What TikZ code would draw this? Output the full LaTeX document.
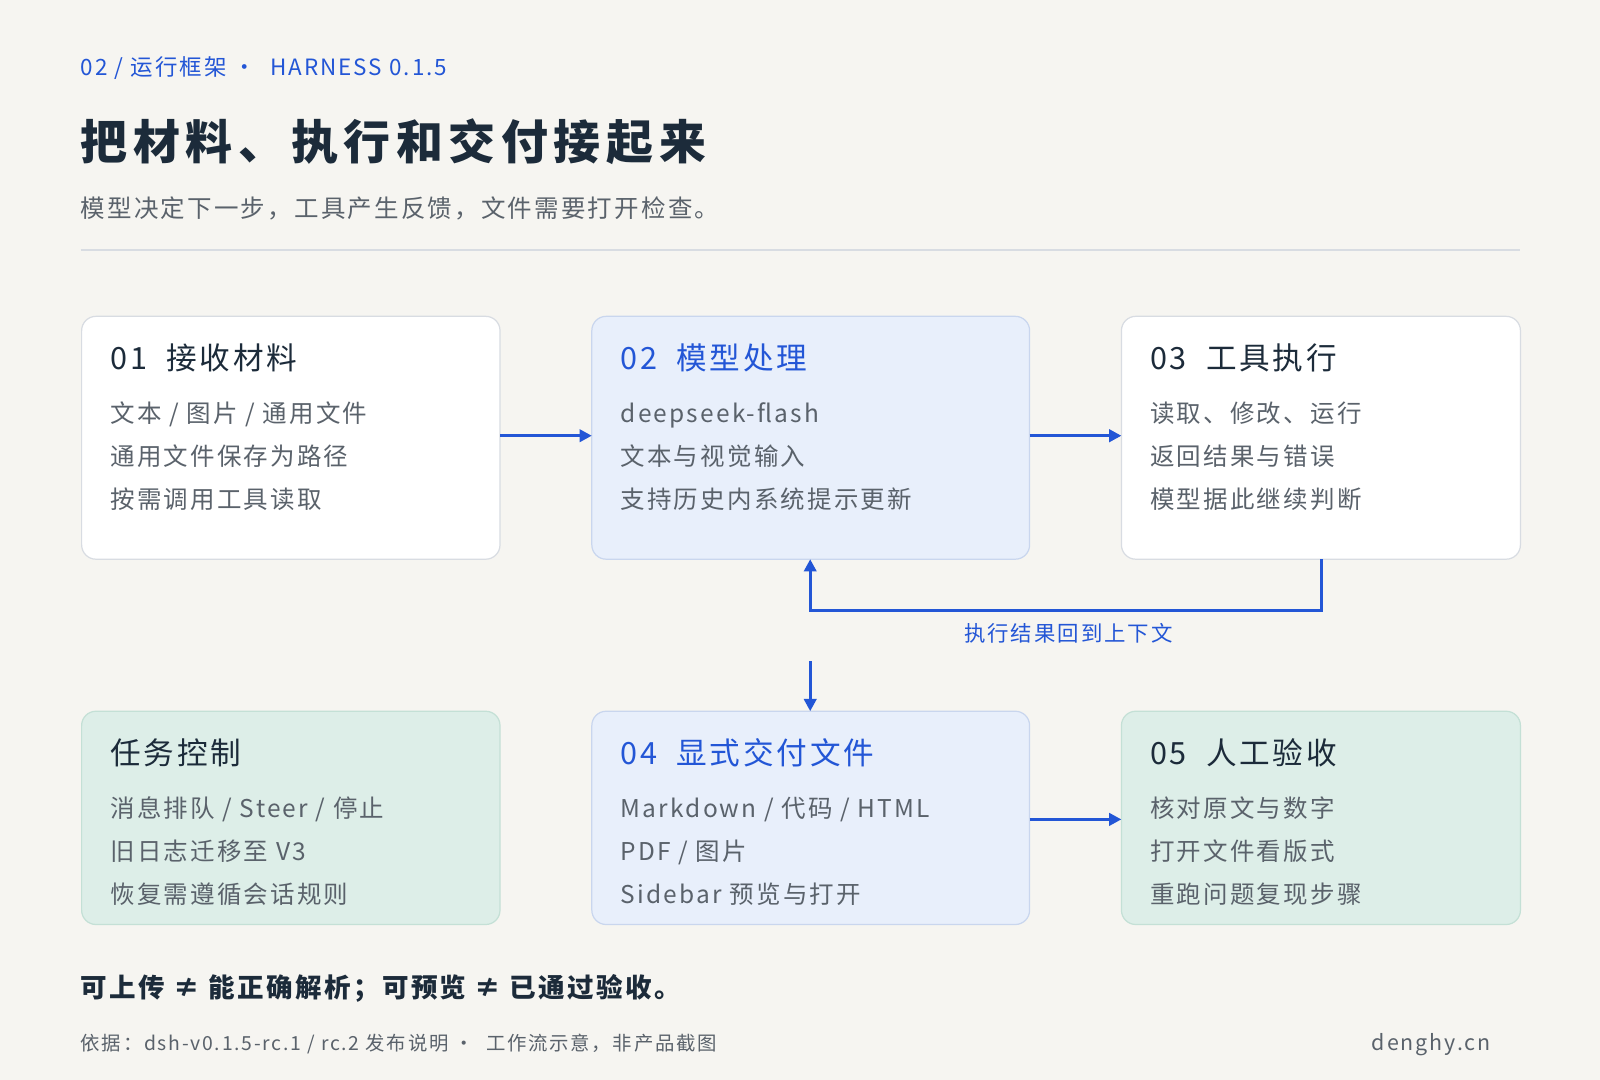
\documentclass[tikz,border=0pt]{standalone}
\usepackage{fontspec}
\setmainfont{Noto Sans CJK SC}[LetterSpace=9]
\newfontfamily\ttlfont{Noto Sans CJK SC}[LetterSpace=12]
\usetikzlibrary{arrows.meta}
\definecolor{bg}{HTML}{F6F5F1}
\definecolor{blu}{HTML}{2356D6}
\definecolor{ink}{HTML}{1C2B3A}
\definecolor{gry}{HTML}{5A626B}
\definecolor{bfill}{HTML}{E8EFFB}
\definecolor{bline}{HTML}{C9D6EE}
\definecolor{gfill}{HTML}{DDEEE8}
\definecolor{gline}{HTML}{C4E0D6}
\definecolor{wline}{HTML}{D8DCE2}
\tikzset{
 box/.style={draw, rounded corners=14pt, line width=1.2pt},
 wbox/.style={box, fill=white, draw=wline},
 bbox/.style={box, fill=bfill, draw=bline},
 gbox/.style={box, fill=gfill, draw=gline},
 ttl/.style={anchor=base west, inner sep=0, font=\fontsize{30}{36}\selectfont},
 ln/.style={anchor=base west, inner sep=0, text=gry, font=\fontsize{24}{30}\selectfont},
 arr/.style={draw=blu, line width=3pt, -{Triangle[length=12pt,width=12pt]}},
}
\begin{document}
\begin{tikzpicture}[x=1pt,y=-1pt]
\useasboundingbox[fill=bg] (0,0) rectangle (1568,1058);
\node[anchor=base west,inner sep=0,text=blu,font=\fontsize{22}{26}\selectfont] (hd) at (79,74) {02 / 运行框架 ·\ \ HARNESS 0.1.5};
\node[anchor=base west,inner sep=0,text=ink,font=\ttlfont\fontsize{46}{54}\selectfont\bfseries] (tt) at (79,156) {把材料、执行和交付接起来};
\node[anchor=base west,inner sep=0,text=gry,font=\fontsize{24}{30}\selectfont] (st) at (79,213) {模型决定下一步，工具产生反馈，文件需要打开检查。};
\draw[wline,line width=1.2pt] (79,245) coordinate (r1) -- (1490,245) coordinate (r2);
% boxes
\draw[wbox] (80,310) rectangle (490,548) coordinate (b1);
\draw[bbox] (580,310) rectangle (1009,548) coordinate (b2);
\draw[wbox] (1099,310) rectangle (1490,548) coordinate (b3);
\draw[gbox] (80,697) rectangle (490,906) coordinate (b4);
\draw[bbox] (580,697) rectangle (1009,906) coordinate (b5);
\draw[gbox] (1099,697) rectangle (1490,906) coordinate (b6);
% box 1
\node[ttl,text=ink] (t1) at (108,362) {01\ \ 接收材料};
\node[ln] (l11) at (108,414) {文本 / 图片 / 通用文件};
\node[ln] (l12) at (108,456) {通用文件保存为路径};
\node[ln] (l13) at (108,498) {按需调用工具读取};
% box 2
\node[ttl,text=blu] (t2) at (608,362) {02\ \ 模型处理};
\node[ln] (l21) at (608,414) {deepseek-flash};
\node[ln] (l22) at (608,456) {文本与视觉输入};
\node[ln] (l23) at (608,498) {支持历史内系统提示更新};
% box 3
\node[ttl,text=ink] (t3) at (1127,362) {03\ \ 工具执行};
\node[ln] (l31) at (1127,414) {读取、修改、运行};
\node[ln] (l32) at (1127,456) {返回结果与错误};
\node[ln] (l33) at (1127,498) {模型据此继续判断};
% box 4
\node[ttl,text=ink] (t4) at (108,749) {任务控制};
\node[ln] (l41) at (108,801) {消息排队 / Steer / 停止};
\node[ln] (l42) at (108,843) {旧日志迁移至 V3};
\node[ln] (l43) at (108,885) {恢复需遵循会话规则};
% box 5
\node[ttl,text=blu] (t5) at (608,749) {04\ \ 显式交付文件};
\node[ln] (l51) at (608,801) {Markdown / 代码 / HTML};
\node[ln] (l52) at (608,843) {PDF / 图片};
\node[ln] (l53) at (608,885) {Sidebar 预览与打开};
% box 6
\node[ttl,text=ink] (t6) at (1127,749) {05\ \ 人工验收};
\node[ln] (l61) at (1127,801) {核对原文与数字};
\node[ln] (l62) at (1127,843) {打开文件看版式};
\node[ln] (l63) at (1127,885) {重跑问题复现步骤};
% arrows
\coordinate (a1s) at (490,427); \coordinate (a1e) at (580,427);
\coordinate (a2s) at (1009,427); \coordinate (a2e) at (1099,427);
\coordinate (lp1) at (1295,548); \coordinate (lp2) at (1295,598);
\coordinate (lp3) at (794,598); \coordinate (lp4) at (794,548);
\coordinate (d1) at (794,648); \coordinate (d2) at (794,697);
\coordinate (a3s) at (1009,803); \coordinate (a3e) at (1099,803);
\draw[arr] (a1s) -- (a1e);
\draw[arr] (a2s) -- (a2e);
\draw[arr] (lp1) -- (lp2) -- (lp3) -- (lp4);
\draw[arr] (d1) -- (d2);
\draw[arr] (a3s) -- (a3e);
\node[anchor=base,inner sep=0,text=blu,font=\fontsize{21}{26}\selectfont] (lbl) at (1047,629) {执行结果回到上下文};
% footer
\node[anchor=base west,inner sep=0,text=ink,font=\fontsize{26}{32}\selectfont\bfseries] (ft) at (79,978) {可上传 ≠ 能正确解析；可预览 ≠ 已通过验收。};
\node[anchor=base west,inner sep=0,text=gry,font=\fontsize{19}{24}\selectfont] (src) at (79,1029) {依据：dsh-v0.1.5-rc.1 / rc.2 发布说明 ·\ \ 工作流示意，非产品截图};
\node[anchor=base east,inner sep=0,text=gry,font=\fontsize{21}{26}\selectfont] (dom) at (1461,1029) {denghy.cn};
\end{tikzpicture}
\end{document}
